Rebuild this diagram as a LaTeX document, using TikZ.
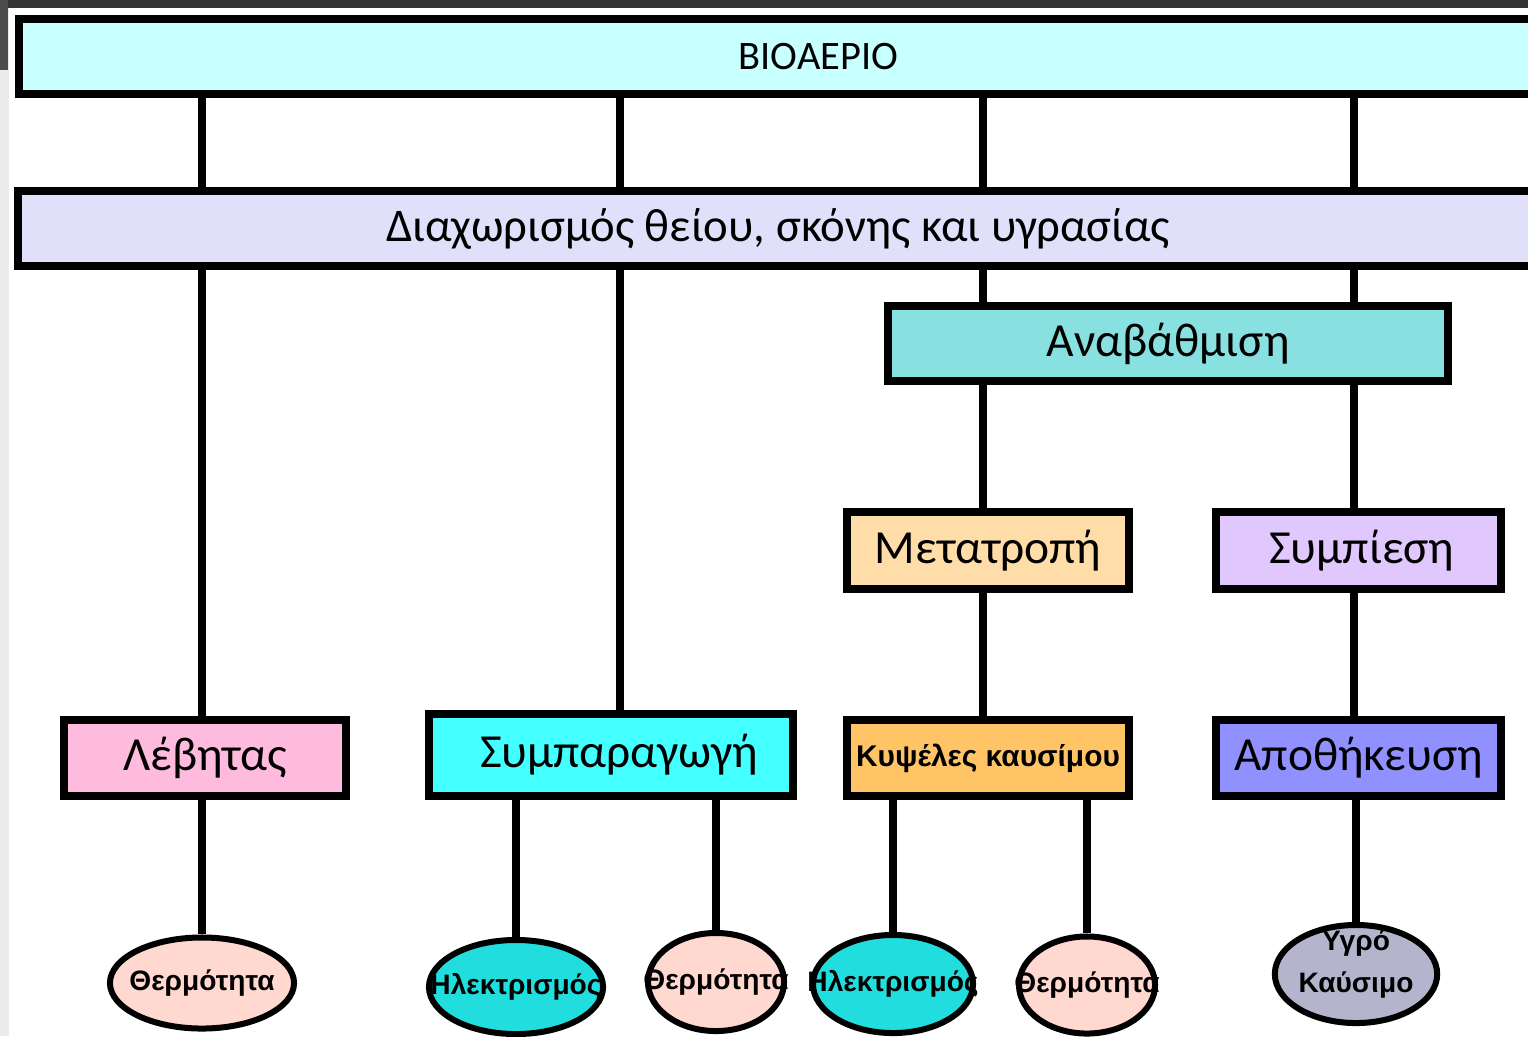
\documentclass[tikz,border=0pt]{standalone}
\usepackage{fontspec}
\setmainfont{Carlito}
\newfontfamily\lblfont{Liberation Sans}
\usetikzlibrary{shapes.geometric}

\definecolor{biocol}{HTML}{C8FFFF}
\definecolor{diaxcol}{HTML}{E0E0FA}
\definecolor{anabcol}{HTML}{88E0E0}
\definecolor{metatcol}{HTML}{FFDDA8}
\definecolor{sympicol}{HTML}{E0C8FF}
\definecolor{levcol}{HTML}{FFBBDD}
\definecolor{symparcol}{HTML}{44FFFF}
\definecolor{kypscol}{HTML}{FFC466}
\definecolor{apothcol}{HTML}{9090FF}
\definecolor{thermcol}{HTML}{FFD8D0}
\definecolor{ilekcol}{HTML}{22DDDD}
\definecolor{ygrocol}{HTML}{B4B4CC}

\begin{document}
\begin{tikzpicture}[x=0.01cm,y=-0.01cm,
    box/.style={draw,line width=0.08cm,inner sep=0pt,font=\fontsize{13.5}{16}\selectfont},
    oval/.style={ellipse,draw,line width=0.06cm,inner sep=0pt,font=\lblfont\bfseries\fontsize{8}{10}\selectfont},
    conn/.style={line width=0.08cm}]
    \useasboundingbox (0,0) rectangle (1528,1036);
    \clip (0,0) rectangle (1528,1036);
    \fill[white] (0,0) rectangle (1528,1036);
    \fill[gray!15] (0,0) rectangle (9,1036);
    \fill[black!80] (0,0) rectangle (1528,8);
    \fill[black!70] (0,0) rectangle (8,70);

    % top bars
    \node[box,fill=biocol,minimum width=15.99cm,minimum height=0.75cm,font=\fontsize{11.5}{14}\selectfont] (bio) at (818.5,56.5) {ΒΙΟΑΕΡΙΟ};
    \node[box,fill=diaxcol,minimum width=15.20cm,minimum height=0.75cm,font=\fontsize{13.3}{16}\selectfont] (diax) at (778,228.5) {Διαχωρισμός θείου, σκόνης και υγρασίας};
    \node[box,fill=anabcol,minimum width=5.60cm,minimum height=0.75cm] (anab) at (1168,343.5) {Αναβάθμιση};

    \node[box,fill=metatcol,minimum width=2.82cm,minimum height=0.77cm] (metat) at (988,550.5) {Μετατροπή\hspace{0.18cm}};
    \node[box,fill=sympicol,minimum width=2.85cm,minimum height=0.77cm] (sympi) at (1358.5,550.5) {\hspace{0.06cm}Συμπίεση};

    \node[box,fill=levcol,minimum width=2.82cm,minimum height=0.76cm] (lev) at (205,758) {Λέβητας};
    \node[box,fill=symparcol,minimum width=3.64cm,minimum height=0.82cm] (sympar) at (611,755) {\hspace{0.16cm}Συμπαραγωγή};
    \node[box,fill=kypscol,minimum width=2.82cm,minimum height=0.76cm,font=\lblfont\bfseries\fontsize{8.5}{10}\selectfont] (kyps) at (988,758) {Κυψέλες καυσίμου};
    \node[box,fill=apothcol,minimum width=2.85cm,minimum height=0.76cm] (apoth) at (1358.5,758) {Αποθήκευση};

    % outputs
    \node[oval,fill=thermcol,minimum width=1.84cm,minimum height=0.91cm] (therm1) at (202,983) {\makebox[0pt]{Θερμότητα}};
    \node[oval,fill=ilekcol,minimum width=1.74cm,minimum height=0.94cm] (ilek1) at (516,987) {\makebox[0pt]{Ηλεκτρισμός}};
    \node[oval,fill=thermcol,minimum width=1.36cm,minimum height=0.98cm] (therm2) at (716,982) {\makebox[0pt]{Θερμότητα}};
    \node[oval,fill=ilekcol,minimum width=1.60cm,minimum height=0.98cm] (ilek2) at (893,984) {\makebox[0pt]{Ηλεκτρισμός}};
    \node[oval,fill=thermcol,minimum width=1.36cm,minimum height=0.97cm] (therm3) at (1087,985) {\makebox[0pt]{Θερμότητα}};
    \node[oval,fill=ygrocol,minimum width=1.62cm,minimum height=0.98cm] (ygro) at (1356,974) {\raisebox{-0.18cm}[0pt][0pt]{\shortstack{Υγρό\\[1.2pt]Καύσιμο}}};

    \coordinate (c1) at (202,0);
    \coordinate (c2) at (620,0);
    \coordinate (c3) at (983,0);
    \coordinate (c4) at (1354,0);

    \draw[conn] (bio.south -| c1) -- (diax.north -| c1);
    \draw[conn] (bio.south -| c2) -- (diax.north -| c2);
    \draw[conn] (bio.south -| c3) -- (diax.north -| c3);
    \draw[conn] (bio.south -| c4) -- (diax.north -| c4);

    \draw[conn] (diax.south -| c1) -- (lev.north -| c1);
    \draw[conn] (diax.south -| c2) -- (sympar.north -| c2);
    \draw[conn] (diax.south -| c3) -- (anab.north -| c3);
    \draw[conn] (diax.south -| c4) -- (anab.north -| c4);

    \draw[conn] (anab.south -| c3) -- (metat.north -| c3);
    \draw[conn] (anab.south -| c4) -- (sympi.north -| c4);
    \draw[conn] (metat.south -| c3) -- (kyps.north -| c3);
    \draw[conn] (sympi.south -| c4) -- (apoth.north -| c4);

    \draw[conn] (lev.south -| therm1) -- (therm1.north);
    \draw[conn] (sympar.south -| ilek1) -- (ilek1.north);
    \draw[conn] (sympar.south -| therm2) -- (therm2.north);
    \draw[conn] (kyps.south -| ilek2) -- (ilek2.north);
    \draw[conn] (kyps.south -| therm3) -- (therm3.north);
    \draw[conn] (apoth.south -| ygro) -- (ygro.north);
\end{tikzpicture}
\end{document}
